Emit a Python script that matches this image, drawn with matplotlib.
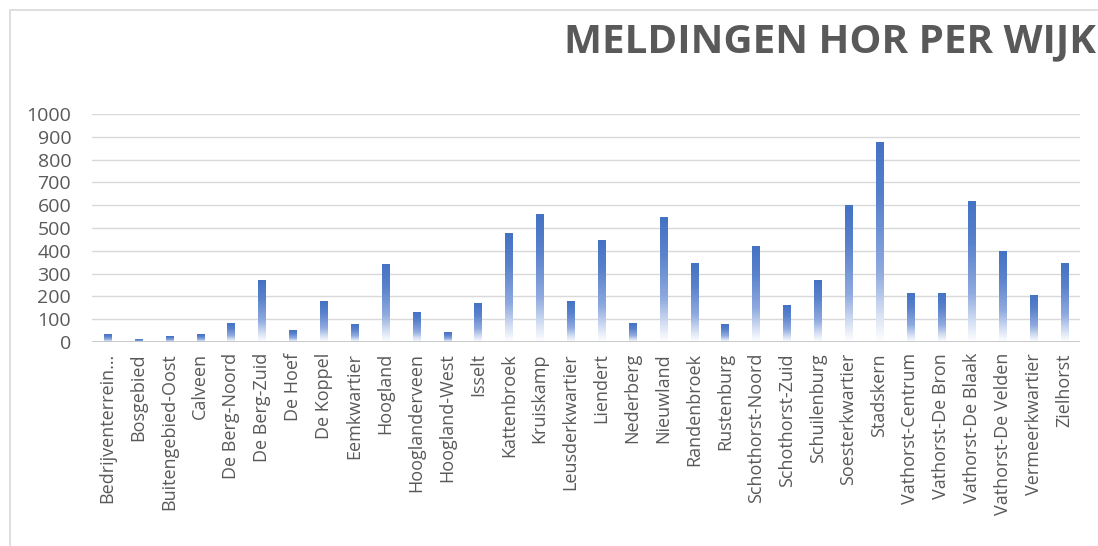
import matplotlib
matplotlib.use("Agg")
import matplotlib.pyplot as plt
import numpy as np
from matplotlib.colors import LinearSegmentedColormap
from matplotlib.patches import Rectangle

wijken = ["Bedrijventerrein…", "Bosgebied", "Buitengebied-Oost", "Calveen", "De Berg-Noord",
          "De Berg-Zuid", "De Hoef", "De Koppel", "Eemkwartier", "Hoogland", "Hooglanderveen",
          "Hoogland-West", "Isselt", "Kattenbroek", "Kruiskamp", "Leusderkwartier", "Liendert",
          "Nederberg", "Nieuwland", "Randenbroek", "Rustenburg", "Schothorst-Noord",
          "Schothorst-Zuid", "Schuilenburg", "Soesterkwartier", "Stadskern", "Vathorst-Centrum",
          "Vathorst-De Bron", "Vathorst-De Blaak", "Vathorst-De Velden", "Vermeerkwartier",
          "Zielhorst"]
meldingen = [32, 13, 26, 32, 83, 268, 51, 179, 76, 338, 129, 40, 167, 476, 559, 179, 445,
             83, 546, 344, 76, 420, 160, 268, 599, 877, 211, 211, 617, 395, 204, 344]
yticks = [0, 100, 200, 300, 400, 500, 600, 700, 800, 900, 1000]
title = "MELDINGEN HOR PER WIJK"

W, H = 1098, 546
fig = plt.figure(figsize=(W / 100, H / 100), dpi=100)
fig.patch.set_facecolor("white")

# chart border
fig.add_artist(Rectangle((10 / W, -0.1), 1.2, (H - 10) / H + 0.1, transform=fig.transFigure,
                         fill=False, edgecolor="#D9D9D9", linewidth=1.2))

left, right = 92 / W, 1080 / W
bottom, top = 1 - 342 / H, 1 - 114 / H
ax = fig.add_axes([left, bottom, right - left, top - bottom])

cmap = LinearSegmentedColormap.from_list(
    "grad", [(0.0, "#FFFFFF"), (0.12, "#DCE5F5"), (0.35, "#8FAADF"), (0.7, "#5A82CC"), (1.0, "#4472C4")])
grad = np.linspace(0, 1, 256).reshape(-1, 1)
bw = 0.23
bars = ax.bar(np.arange(len(wijken)), meldingen, width=bw, color="none", zorder=3)
for b in bars:
    x0 = b.get_x()
    h = b.get_height()
    ax.imshow(grad, cmap=cmap, origin="lower", aspect="auto",
              extent=(x0, x0 + bw, 0, h), zorder=3, interpolation="bilinear")
ax.set_xlim(-0.5, len(wijken) - 0.5)
ax.set_ylim(0, 1000)

for y in yticks[1:]:
    ax.axhline(y, color="#D9D9D9", linewidth=1.0, zorder=1)
ax.axhline(0, color="#BFBFBF", linewidth=1.2, zorder=4)

for s in ax.spines.values():
    s.set_visible(False)

font = "Open Sans"
ax.set_yticks(yticks)
ax.set_yticklabels([str(v) for v in yticks], fontsize=14, color="#595959", family=font)
ax.set_xticks(np.arange(len(wijken)))
ax.set_xticklabels(wijken, rotation=90, fontsize=13, color="#595959", family=font)
ax.tick_params(axis="both", length=0)
ax.tick_params(axis="y", pad=15)
ax.tick_params(axis="x", pad=8)

fig.text(1096 / W, 1 - 42 / H, title, ha="right", va="center", fontsize=29,
         fontweight="bold", color="#595959", family=font)

fig.savefig("out.png", dpi=100)
